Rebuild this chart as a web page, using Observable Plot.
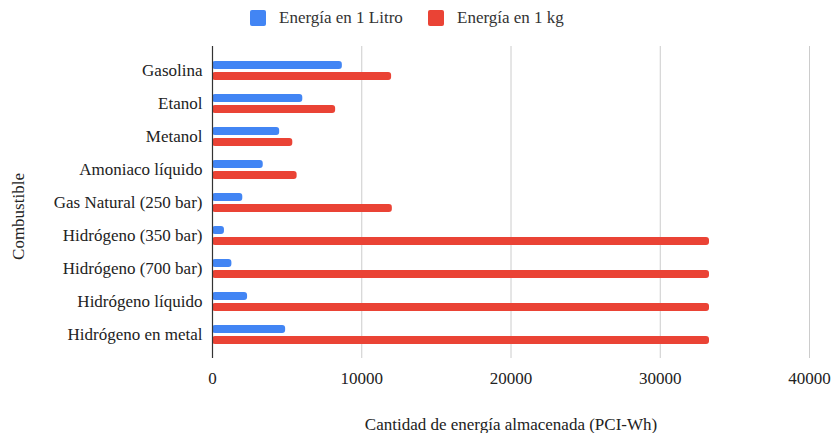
<!DOCTYPE html>
<html>
<head>
<meta charset="utf-8">
<script src="https://cdn.jsdelivr.net/npm/d3@7"></script>
<script src="https://cdn.jsdelivr.net/npm/@observablehq/plot@0.6"></script>
<style>
  body { margin: 0; background: #fff; font-family: "Liberation Serif", "Times New Roman", serif; }
  #wrap { position: relative; width: 832px; height: 433px; }
  #legend { position: relative; height: 36px; }
  #chart svg { display: block; }
  .item { position: absolute; top: 10px; display: flex; align-items: center; font-size: 17px; color: #333; line-height: 16px; }
  .sw { width: 16px; height: 16px; border-radius: 2px; margin-right: 13px; }
</style>
</head>
<body>
<div id="wrap">
  <div id="legend"></div>
  <div id="chart"></div>
</div>
<script>
const categories = ["Gasolina", "Etanol", "Metanol", "Amoniaco líquido", "Gas Natural (250 bar)",
  "Hidrógeno (350 bar)", "Hidrógeno (700 bar)", "Hidrógeno líquido", "Hidrógeno en metal"];
const seriesNames = ["Energía en 1 Litro", "Energía en 1 kg"];
const energiaLitro = [8700, 6050, 4500, 3400, 2030, 800, 1300, 2350, 4900];
const energiaKg = [12000, 8250, 5380, 5670, 12050, 33300, 33300, 33300, 33300];
const xTicks = [0, 10000, 20000, 30000, 40000];
const colors = ["#4285F4", "#EA4335"];

const rows = categories.map((c, i) => ({combustible: c, litro: energiaLitro[i], kg: energiaKg[i]}));

// legend
const legend = document.getElementById("legend");
const legendLefts = [250, 428];
seriesNames.forEach((name, i) => {
  const it = document.createElement("div");
  it.className = "item";
  it.style.left = legendLefts[i] + "px";
  it.innerHTML = `<span class="sw" style="background:${colors[i]}"></span><span>${name}</span>`;
  legend.appendChild(it);
});

const inset = 12.5;
const chart = Plot.plot({
  width: 832,
  height: 397,
  marginTop: 10,
  marginBottom: 75,
  marginLeft: 212,
  marginRight: 23,
  style: {fontFamily: "'Liberation Serif', 'Times New Roman', serif", fontSize: "17px", color: "#222", background: "#fff"},
  x: {domain: [0, 40000]},
  y: {domain: categories, padding: 0, insetTop: 5, insetBottom: 5},
  marks: [
    Plot.gridX(xTicks, {stroke: "#cccccc", strokeOpacity: 1, strokeWidth: 1}),
    Plot.barX(rows, {x: "litro", y: "combustible", fill: colors[0], insetTop: inset, insetBottom: inset, dy: -5.5, rx: 3}),
    Plot.barX(rows, {x: "kg", y: "combustible", fill: colors[1], insetTop: inset, insetBottom: inset, dy: 5.5, rx: 3}),
    Plot.ruleX([0], {stroke: "#333", strokeWidth: 1.2}),
    Plot.axisX(xTicks, {tickSize: 0, tickPadding: 13, tickFormat: d3.format("d"), fontSize: 17, label: null}),
    Plot.axisY({tickSize: 0, tickPadding: 10, fontSize: 17, label: null}),
    Plot.text(["Combustible"], {frameAnchor: "left", textAnchor: "middle", dx: -194, dy: 14, rotate: -90, fontSize: 17, fill: "#222"}),
    Plot.text(["Cantidad de energía almacenada (PCI-Wh)"], {frameAnchor: "bottom", dy: 71, fontSize: 17, fill: "#222"})
  ]
});
document.getElementById("chart").appendChild(chart);
</script>
</body>
</html>
